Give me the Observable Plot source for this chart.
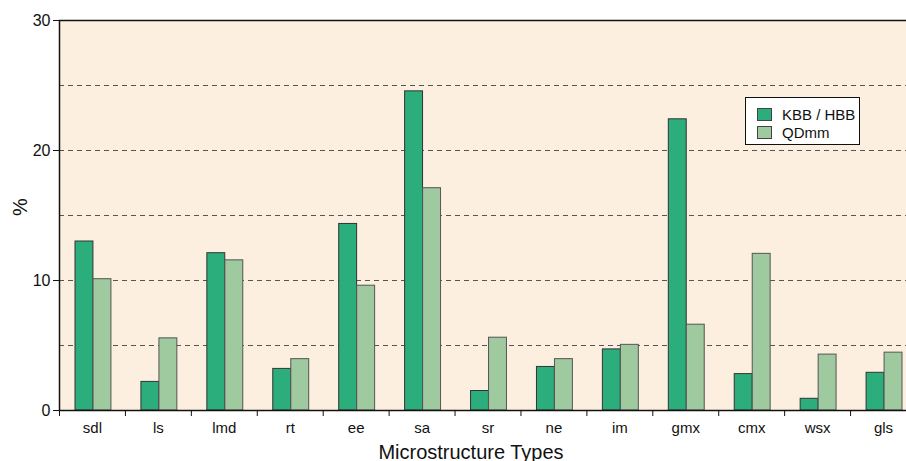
<!DOCTYPE html>
<html>
<head>
<meta charset="utf-8">
<script src="https://cdn.jsdelivr.net/npm/d3@7"></script>
<script src="https://cdn.jsdelivr.net/npm/@observablehq/plot@0.6"></script>
<style>
  html, body { margin: 0; padding: 0; background: #ffffff; overflow: hidden; width: 906px; height: 461px; }
  #wrap { position: relative; width: 906px; height: 461px; overflow: hidden; font-family: "Liberation Sans", Arial, sans-serif; }
  #chart { position: absolute; left: 0; top: 0; width: 916px; height: 461px; }
  #chart svg { max-width: none !important; width: 916px !important; height: 461px !important; display: block; }
  #ylabel { position: absolute; left: 20px; top: 207px; transform: translate(-50%, -50%) rotate(-90deg); font-size: 20px; color: #111; }
  #xlabel { position: absolute; left: 471px; top: 452px; transform: translate(-50%, -50%); font-size: 20px; color: #111; white-space: nowrap; }
  #legend { position: absolute; left: 745px; top: 97px; width: 113px; height: 46px; background: #fff; border: 1.5px solid #111; font-size: 15px; color: #111; }
  .li { position: absolute; left: 11px; display: flex; align-items: center; }
  .sw { width: 15px; height: 13px; border: 1px solid #444; margin-right: 10px; box-sizing: border-box; }
</style>
</head>
<body>
<div id="wrap">
  <div id="chart"></div>
  <div id="ylabel">%</div>
  <div id="xlabel">Microstructure Types</div>
  <div id="legend"></div>
</div>
<script>
const categories = ["sdl","ls","lmd","rt","ee","sa","sr","ne","im","gmx","cmx","wsx","gls"];
const seriesNames = ["KBB / HBB", "QDmm"];
const kbb  = [13.0, 2.2, 12.1, 3.2, 14.35, 24.55, 1.5, 3.35, 4.7, 22.4, 2.8, 0.9, 2.9];
const qdmm = [10.1, 5.55, 11.55, 3.95, 9.6, 17.1, 5.6, 3.95, 5.05, 6.6, 12.05, 4.3, 4.45];
const yTicks = [0, 10, 20, 30];
const gridValues = [5, 10, 15, 20, 25];
const colors = ["#2bae7b", "#9fc99f"];

const kbbData = categories.map((c, i) => ({cat: c, value: kbb[i]}));
const qdData = categories.map((c, i) => ({cat: c, value: qdmm[i]}));

const W = 916, ML = 59, MR = 0;
const step = (W - ML - MR) / categories.length;

const chart = Plot.plot({
  width: W,
  height: 461,
  marginLeft: ML,
  marginRight: MR,
  marginTop: 20,
  marginBottom: 51,
  style: {fontFamily: "'Liberation Sans', Arial, sans-serif", fontSize: "15px", background: "transparent", color: "#111", overflow: "visible"},
  x: {domain: categories, padding: 0, round: false, label: null},
  y: {domain: [0, 30], label: null},
  marks: [
    Plot.frame({fill: "#fcefdf", stroke: "none"}),
    Plot.ruleY(gridValues, {stroke: "#555", strokeWidth: 1, strokeDasharray: "5,4"}),
    Plot.barY(kbbData, {x: "cat", y: "value", fill: colors[0], stroke: "#333", strokeWidth: 1, insetLeft: 16, insetRight: 32}),
    Plot.barY(qdData, {x: "cat", y: "value", fill: colors[1], stroke: "#555", strokeWidth: 1, insetLeft: 34, insetRight: 14}),
    Plot.frame({stroke: "#111", strokeWidth: 1.5}),
    Plot.axisY({ticks: yTicks, tickSize: 6, tickPadding: 3, label: null, stroke: "#111", fontSize: 16}),
    Plot.axisX({tickSize: 0, tickPadding: 12, label: null, fontSize: 15}),
    Plot.axisX({tickSize: 6, tickFormat: () => "", dx: -step / 2, label: null, stroke: "#111"})
  ]
});
chart.style.maxWidth = "none";
document.getElementById("chart").appendChild(chart);

const legend = document.getElementById("legend");
seriesNames.forEach((name, i) => {
  const item = document.createElement("div");
  item.className = "li";
  item.style.top = (8 + i * 18) + "px";
  const sw = document.createElement("div");
  sw.className = "sw";
  sw.style.background = colors[i];
  const t = document.createElement("span");
  t.textContent = name;
  item.appendChild(sw);
  item.appendChild(t);
  legend.appendChild(item);
});
</script>
</body>
</html>
